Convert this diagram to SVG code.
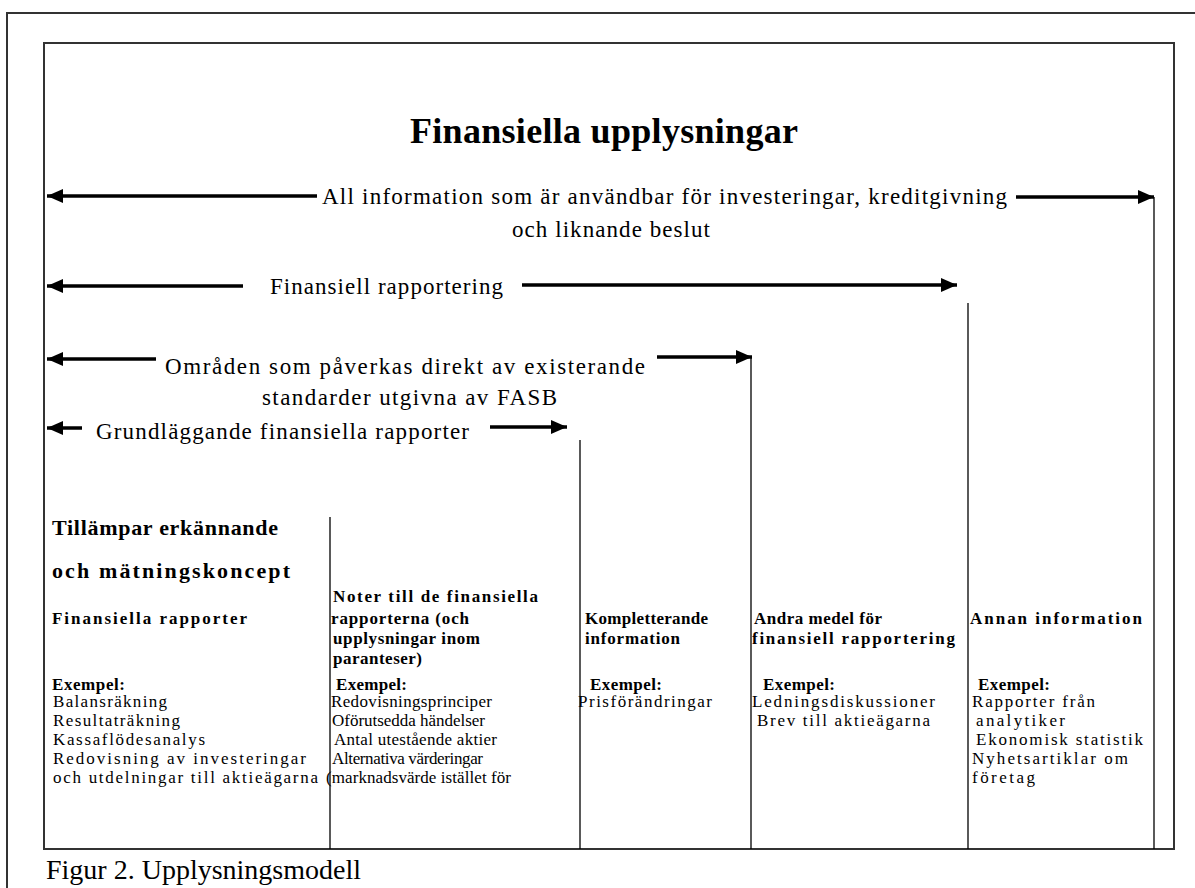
<svg xmlns="http://www.w3.org/2000/svg" width="1195" height="888" viewBox="0 0 1195 888">
<style>
.t{font-family:"Liberation Serif","Times New Roman",serif;fill:#000}
.b{font-weight:bold}
.lab{font-size:23px}
.h{font-size:17px}
.r{font-size:17px}
.frame{fill:none;stroke:#333;stroke-width:2}
.arr{stroke:#000;stroke-width:3.5;fill:none;marker-end:url(#ah)}
.vl{stroke:#000;stroke-width:1.3}
</style>
<defs>
<marker id="ah" markerUnits="userSpaceOnUse" markerWidth="17" markerHeight="14" refX="16" refY="7" orient="auto">
<path d="M0,0 L16,7 L0,14 z" fill="#000"/>
</marker>
</defs>
<rect width="1195" height="888" fill="#fff"/>
<g id="frames">
<path class="frame" d="M7,888 V13 H1195"/>
<rect class="frame" x="44" y="43" width="1130" height="806"/>
</g>
<g id="title"><text class="t b" x="410" y="143" font-size="36" textLength="388" lengthAdjust="spacing">Finansiella upplysningar</text></g>
<g id="connectors">
<line class="arr" x1="317" y1="196" x2="47" y2="196"/>
<line class="arr" x1="1016" y1="197" x2="1154" y2="197"/>
<line class="arr" x1="243" y1="286" x2="47" y2="286"/>
<line class="arr" x1="522" y1="285" x2="957" y2="285"/>
<line class="arr" x1="156" y1="359" x2="47" y2="359"/>
<line class="arr" x1="657" y1="357" x2="752" y2="357"/>
<line class="arr" x1="82" y1="428" x2="47" y2="428"/>
<line class="arr" x1="490" y1="427" x2="567" y2="427"/>
<line class="vl" x1="330" y1="517" x2="330" y2="849"/>
<line class="vl" x1="580" y1="440" x2="580" y2="849"/>
<line class="vl" x1="751" y1="357" x2="751" y2="849"/>
<line class="vl" x1="968" y1="303" x2="968" y2="849"/>
<line class="vl" x1="1154" y1="197" x2="1154" y2="849"/>
</g>
<g id="label-all">
<text class="t lab" x="322" y="204" textLength="685" lengthAdjust="spacing">All information som är användbar för investeringar, kreditgivning</text>
<text class="t lab" x="512" y="237" textLength="198" lengthAdjust="spacing">och liknande beslut</text>
</g>
<g id="label-fin"><text class="t lab" x="270" y="294" textLength="233" lengthAdjust="spacing">Finansiell rapportering</text></g>
<g id="label-fasb">
<text class="t lab" x="165" y="374" textLength="480" lengthAdjust="spacing">Områden som påverkas direkt av existerande</text>
<text class="t lab" x="262" y="405" textLength="295" lengthAdjust="spacing">standarder utgivna av FASB</text>
</g>
<g id="label-grund"><text class="t lab" x="96" y="439" textLength="373" lengthAdjust="spacing">Grundläggande finansiella rapporter</text></g>
<g id="col1">
<text class="t b" font-size="22" x="52" y="535" textLength="226" lengthAdjust="spacing">Tillämpar erkännande</text>
<text class="t b" font-size="22" x="52" y="578" textLength="238" lengthAdjust="spacing">och mätningskoncept</text>
<text class="t b h" x="52" y="624" textLength="195" lengthAdjust="spacing">Finansiella rapporter</text>
<text class="t b h" x="52" y="690" textLength="73" lengthAdjust="spacing">Exempel:</text>
<text class="t r" x="53" y="707" textLength="114" lengthAdjust="spacing">Balansräkning</text>
<text class="t r" x="53" y="726" textLength="127" lengthAdjust="spacing">Resultaträkning</text>
<text class="t r" x="53" y="745" textLength="152" lengthAdjust="spacing">Kassaflödesanalys</text>
<text class="t r" x="53" y="764" textLength="253" lengthAdjust="spacing">Redovisning av investeringar</text>
<text class="t r" x="53" y="783" textLength="265" lengthAdjust="spacing">och utdelningar till aktieägarna</text>
</g>
<g id="col2">
<text class="t b h" x="333" y="602" textLength="205" lengthAdjust="spacing">Noter till de finansiella</text>
<text class="t b h" x="331" y="624" textLength="138" lengthAdjust="spacing">rapporterna (och</text>
<text class="t b h" x="333" y="644" textLength="147" lengthAdjust="spacing">upplysningar inom</text>
<text class="t b h" x="333" y="664" textLength="89" lengthAdjust="spacing">paranteser)</text>
<text class="t b h" x="336" y="690" textLength="71" lengthAdjust="spacing">Exempel:</text>
<text class="t r" x="331" y="707" textLength="161" lengthAdjust="spacing">Redovisningsprinciper</text>
<text class="t r" x="332" y="726" textLength="153" lengthAdjust="spacing">Oförutsedda händelser</text>
<text class="t r" x="334" y="745" textLength="163" lengthAdjust="spacing">Antal utestående aktier</text>
<text class="t r" x="332" y="764" textLength="151" lengthAdjust="spacing">Alternativa värderingar</text>
<text class="t r" x="326" y="783" textLength="185" lengthAdjust="spacing">(marknadsvärde istället för</text>
</g>
<g id="col3">
<text class="t b h" x="585" y="624" textLength="123" lengthAdjust="spacing">Kompletterande</text>
<text class="t b h" x="585" y="644" textLength="95" lengthAdjust="spacing">information</text>
<text class="t b h" x="590" y="690" textLength="72" lengthAdjust="spacing">Exempel:</text>
<text class="t r" x="578" y="707" textLength="134" lengthAdjust="spacing">Prisförändringar</text>
</g>
<g id="col4">
<text class="t b h" x="754" y="624" textLength="128" lengthAdjust="spacing">Andra medel för</text>
<text class="t b h" x="752" y="644" textLength="203" lengthAdjust="spacing">finansiell rapportering</text>
<text class="t b h" x="763" y="690" textLength="72" lengthAdjust="spacing">Exempel:</text>
<text class="t r" x="752" y="707" textLength="183" lengthAdjust="spacing">Ledningsdiskussioner</text>
<text class="t r" x="757" y="726" textLength="173" lengthAdjust="spacing">Brev till aktieägarna</text>
</g>
<g id="col5">
<text class="t b h" x="970" y="624" textLength="172" lengthAdjust="spacing">Annan information</text>
<text class="t b h" x="978" y="690" textLength="72" lengthAdjust="spacing">Exempel:</text>
<text class="t r" x="972" y="707" textLength="123" lengthAdjust="spacing">Rapporter från</text>
<text class="t r" x="976" y="726" textLength="89" lengthAdjust="spacing">analytiker</text>
<text class="t r" x="976" y="745" textLength="167" lengthAdjust="spacing">Ekonomisk statistik</text>
<text class="t r" x="972" y="764" textLength="156" lengthAdjust="spacing">Nyhetsartiklar om</text>
<text class="t r" x="972" y="783" textLength="63" lengthAdjust="spacing">företag</text>
</g>
<g id="caption"><text class="t" x="46" y="879" font-size="28" fill="#222">Figur 2. Upplysningsmodell</text></g>
</svg>
